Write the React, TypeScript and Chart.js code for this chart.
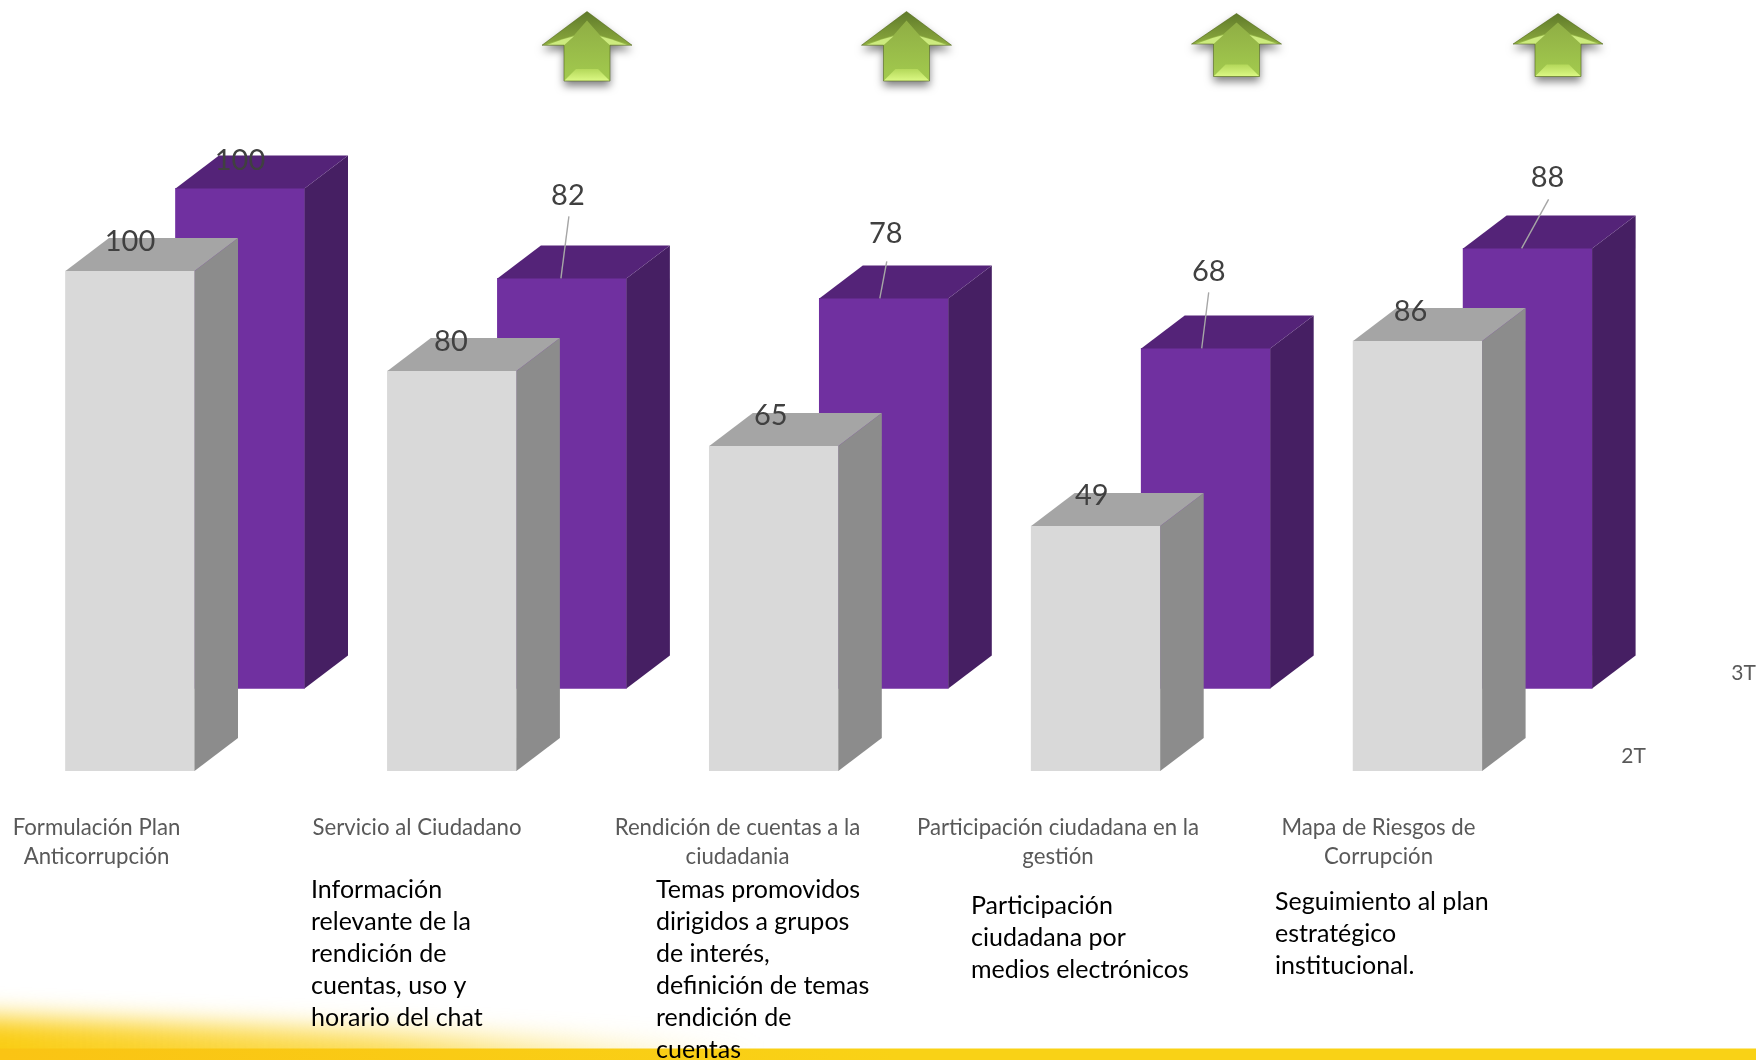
import React, { useEffect, useRef } from "react";
import { Chart, registerables } from "chart.js";

Chart.register(...registerables);

// Category names, wrapped as they appear under the columns
const categories: string[][] = [
  ["Formulación Plan", "Anticorrupción"],
  ["Servicio al Ciudadano"],
  ["Rendición de cuentas a la", "ciudadania"],
  ["Participación ciudadana en la", "gestión"],
  ["Mapa de Riesgos de", "Corrupción"],
];
const seriesNames = ["2T", "3T"];
const values2T = [100, 80, 65, 49, 86];
const values3T = [100, 82, 78, 68, 88];

// Explanatory notes under the categories
const notes: { x: number; y: number; lines: string[] }[] = [
  { x: 311, y: 890, lines: ["Información", "relevante de la", "rendición de", "cuentas, uso y", "horario del chat"] },
  { x: 656, y: 890, lines: ["Temas promovidos", "dirigidos a grupos", "de interés,", "definición de temas", "rendición de", "cuentas"] },
  { x: 971, y: 906, lines: ["Participación", "ciudadana por", "medios electrónicos"] },
  { x: 1275, y: 902, lines: ["Seguimiento al plan", "estratégico", "institucional."] },
];

// Trend arrows above the columns: centre x, top, bottom
const arrows = [
  { cx: 587, top: 11.5, bottom: 81 },
  { cx: 906.5, top: 11.5, bottom: 81 },
  { cx: 1236.5, top: 13.5, bottom: 76.5 },
  { cx: 1558, top: 13.5, bottom: 76.5 },
];

const FONT = "Lato, 'Open Sans', sans-serif";
const WIDTH = 1756;
const HEIGHT = 1060;
const BASELINE = 771;
const PX_PER_UNIT = 5;
const STEP = 321.9;
const LABEL_STEP = 320.5;
const BAR_WIDTH = 129;
const DEPTH_X = 43.5;
const DEPTH_Y = 33;
const BACK_SHIFT_X = 110;
const BACK_SHIFT_Y = 82.6;
const FIRST_CENTRE = 130;
const LABEL_CENTRE = 96.5;

const faces = [
  { front: "#D9D9D9", side: "#8C8C8C", top: "#A5A5A5" },
  { front: "#7030A0", side: "#461F63", top: "#542378" },
];

// Where each value label sits relative to the top of its column
const labelOffsets = [
  [[0, -29], [-1, -29], [-3, -30], [-4, -30], [-7, -29]],
  [[0, -28], [6, -83], [2, -65], [3, -77], [20, -71]],
];
// Leader lines for the labels lifted off the column: start and end, relative to the top centre
const leaders: (number[] | null)[] = [null, [7, -62, -1, 0], [3, -37, -4, 0], [3, -56, -4, 0], [21, -49, -6, 0]];

function drawArrow(ctx: CanvasRenderingContext2D, a: { cx: number; top: number; bottom: number }) {
  const { cx, top, bottom } = a;
  const h = bottom - top;
  const wing = top + h * 0.485;
  const halfHead = 45;
  const halfBody = 23;
  const outline = () => {
    ctx.beginPath();
    ctx.moveTo(cx, top);
    ctx.lineTo(cx + halfHead, wing);
    ctx.lineTo(cx + halfBody, wing);
    ctx.lineTo(cx + halfBody, bottom);
    ctx.lineTo(cx - halfBody, bottom);
    ctx.lineTo(cx - halfBody, wing);
    ctx.lineTo(cx - halfHead, wing);
    ctx.closePath();
  };
  ctx.save();
  ctx.shadowColor = "rgba(0,0,0,0.5)";
  ctx.shadowBlur = 9;
  ctx.shadowOffsetY = 5;
  const body = ctx.createLinearGradient(0, top, 0, bottom);
  body.addColorStop(0, "#8CA943");
  body.addColorStop(1, "#A3CB4E");
  ctx.fillStyle = body;
  outline();
  ctx.fill();
  ctx.restore();

  ctx.save();
  outline();
  ctx.clip();
  // Bevel facets: upper head edges, wing undersides and the foot
  const poly = (pts: number[][], fill: string | CanvasGradient) => {
    ctx.beginPath();
    pts.forEach(([x, y], i) => (i ? ctx.lineTo(x, y) : ctx.moveTo(x, y)));
    ctx.closePath();
    ctx.fillStyle = fill;
    ctx.fill();
  };
  const head = ctx.createLinearGradient(0, top, 0, wing);
  head.addColorStop(0, "#5F7A2A");
  head.addColorStop(1, "#8CAA3E");
  poly([[cx, top], [cx + halfHead, wing], [cx + 13, wing - 10], [cx, top + 9], [cx - 13, wing - 10], [cx - halfHead, wing]], head);
  poly([[cx - halfHead + 4, wing], [cx - halfBody, wing], [cx - 13, wing - 9], [cx - 24, wing - 6]], "#CDEB7F");
  poly([[cx + halfHead - 4, wing], [cx + halfBody, wing], [cx + 13, wing - 9], [cx + 24, wing - 6]], "#CDEB7F");
  const foot = ctx.createLinearGradient(0, bottom - 12, 0, bottom);
  foot.addColorStop(0, "#B4D85A");
  foot.addColorStop(1, "#DCF985");
  poly([[cx - halfBody, bottom], [cx + halfBody, bottom], [cx + 11, bottom - 12], [cx - 11, bottom - 12]], foot);
  ctx.restore();

  ctx.save();
  ctx.strokeStyle = "rgba(85,105,35,0.6)";
  ctx.lineWidth = 1;
  outline();
  ctx.stroke();
  ctx.restore();
}

// Page decoration behind the chart: the yellow band and its fading swoosh
const backdrop = {
  id: "backdrop",
  beforeDraw(chart: any) {
    const ctx: CanvasRenderingContext2D = chart.ctx;
    ctx.save();
    ctx.fillStyle = "#FFFFFF";
    ctx.fillRect(0, 0, WIDTH, HEIGHT);
    const fade = ctx.createLinearGradient(0, 0, 760, 0);
    fade.addColorStop(0, "rgba(250,205,20,1)");
    fade.addColorStop(0.5, "rgba(250,208,30,0.75)");
    fade.addColorStop(1, "rgba(250,212,40,0)");
    ctx.filter = "blur(13px)";
    ctx.fillStyle = fade;
    ctx.beginPath();
    ctx.moveTo(-40, 1016);
    ctx.quadraticCurveTo(320, 1028, 800, 1052);
    ctx.lineTo(800, 1100);
    ctx.lineTo(-40, 1100);
    ctx.closePath();
    ctx.fill();
    ctx.filter = "none";
    const band = ctx.createLinearGradient(0, 0, 900, 0);
    band.addColorStop(0, "rgba(250,196,20,1)");
    band.addColorStop(1, "#F9D216");
    ctx.fillStyle = band;
    ctx.fillRect(0, 1048.5, WIDTH, 12);
    ctx.restore();
  },
};

// Extrudes every column: side and top faces follow the front face the library drew
const extrude = {
  id: "extrude",
  afterDatasetDraw(chart: any, args: any) {
    const ctx: CanvasRenderingContext2D = chart.ctx;
    const colours = faces[args.index];
    args.meta.data.forEach((bar: any) => {
      const left = bar.x - bar.width / 2;
      const right = bar.x + bar.width / 2;
      ctx.save();
      ctx.fillStyle = colours.side;
      ctx.beginPath();
      ctx.moveTo(right, bar.y);
      ctx.lineTo(right + DEPTH_X, bar.y - DEPTH_Y);
      ctx.lineTo(right + DEPTH_X, bar.base - DEPTH_Y);
      ctx.lineTo(right, bar.base);
      ctx.closePath();
      ctx.fill();
      ctx.fillStyle = colours.top;
      ctx.beginPath();
      ctx.moveTo(left, bar.y);
      ctx.lineTo(left + DEPTH_X, bar.y - DEPTH_Y);
      ctx.lineTo(right + DEPTH_X, bar.y - DEPTH_Y);
      ctx.lineTo(right, bar.y);
      ctx.closePath();
      ctx.fill();
      ctx.restore();
    });
  },
};

// Value labels, leader lines, series names, notes and arrows
const annotations = {
  id: "annotations",
  afterDatasetsDraw(chart: any) {
    const ctx: CanvasRenderingContext2D = chart.ctx;
    ctx.save();
    ctx.textBaseline = "middle";

    chart.data.datasets.forEach((ds: any, d: number) => {
      const meta = chart.getDatasetMeta(d);
      meta.data.forEach((bar: any, i: number) => {
        const value = ds.data[i].y;
        const [dx, dy] = labelOffsets[d][i];
        const leader = d === 1 ? leaders[i] : null;
        if (leader) {
          ctx.strokeStyle = "#A6A6A6";
          ctx.lineWidth = 1.4;
          ctx.beginPath();
          ctx.moveTo(bar.x + leader[0], bar.y + leader[1]);
          ctx.lineTo(bar.x + leader[2], bar.y + leader[3]);
          ctx.stroke();
        }
        ctx.fillStyle = "#404040";
        ctx.font = `29px ${FONT}`;
        ctx.textAlign = "center";
        ctx.fillText(String(value), bar.x + dx, bar.y + dy);
      });
      // Series name beside the last column of its row
      const last = meta.data[meta.data.length - 1];
      ctx.fillStyle = "#595959";
      ctx.font = `21px ${FONT}`;
      ctx.textAlign = "center";
      ctx.fillText(ds.label, last.x + 216, last.base - 15);
    });

    ctx.fillStyle = "#000000";
    ctx.font = `25px ${FONT}`;
    ctx.textAlign = "left";
    notes.forEach((note) => {
      note.lines.forEach((line, i) => ctx.fillText(line, note.x, note.y + i * 32));
    });
    arrows.forEach((a) => drawArrow(ctx, a));
    ctx.restore();
  },
};

export default function App() {
  const canvasRef = useRef<HTMLCanvasElement | null>(null);

  useEffect(() => {
    document.body.style.margin = "0";
    const hidden = { display: false, offset: false };
    const chart = new Chart(canvasRef.current as HTMLCanvasElement, {
      type: "bar",
      data: {
        datasets: [
          {
            label: seriesNames[0],
            data: values2T.map((y, x) => ({ x, y })),
            backgroundColor: faces[0].front,
            xAxisID: "x",
            yAxisID: "y",
          },
          {
            label: seriesNames[1],
            data: values3T.map((y, x) => ({ x, y })),
            backgroundColor: faces[1].front,
            xAxisID: "x2",
            yAxisID: "y2",
          },
        ],
      },
      options: {
        responsive: false,
        animation: false,
        events: [],
        layout: { padding: 0 },
        datasets: { bar: { barThickness: BAR_WIDTH, grouped: false } },
        plugins: { legend: { display: false }, tooltip: { enabled: false }, title: { display: false } },
        scales: {
          // Front row of columns
          x: { ...hidden, type: "linear", min: -FIRST_CENTRE / STEP, max: (WIDTH - FIRST_CENTRE) / STEP },
          y: { ...hidden, min: 0, max: BASELINE / PX_PER_UNIT },
          // Back row: the same scales slid right and up by the perspective shift
          x2: {
            ...hidden,
            type: "linear",
            min: -(FIRST_CENTRE + BACK_SHIFT_X) / STEP,
            max: (WIDTH - FIRST_CENTRE - BACK_SHIFT_X) / STEP,
          },
          y2: {
            ...hidden,
            min: -BACK_SHIFT_Y / PX_PER_UNIT,
            max: (BASELINE - BACK_SHIFT_Y) / PX_PER_UNIT,
          },
          // Category axis, set off to the left of the columns as in a 3D perspective
          xLabels: {
            type: "linear",
            position: "bottom",
            offset: false,
            min: -LABEL_CENTRE / LABEL_STEP,
            max: (WIDTH - LABEL_CENTRE) / LABEL_STEP,
            afterFit(scale: any) {
              scale.height = HEIGHT - BASELINE;
              scale.paddingLeft = 0;
              scale.paddingRight = 0;
            },
            afterBuildTicks(scale: any) {
              scale.ticks = categories.map((_, value) => ({ value }));
            },
            grid: { display: false, drawTicks: false },
            border: { display: false },
            ticks: {
              autoSkip: false,
              maxRotation: 0,
              minRotation: 0,
              padding: 42,
              color: "#595959",
              font: { family: FONT, size: 22.2, lineHeight: 29 / 22.2 },
              callback: (value: any) => categories[value] ?? "",
            },
          },
        },
      } as any,
      plugins: [backdrop, extrude, annotations],
    } as any);
    return () => chart.destroy();
  }, []);

  return (
    <div style={{ position: "fixed", left: 0, top: 0, width: WIDTH, height: HEIGHT, overflow: "hidden", background: "#fff" }}>
      <canvas ref={canvasRef} width={WIDTH} height={HEIGHT} style={{ display: "block" }} />
    </div>
  );
}
